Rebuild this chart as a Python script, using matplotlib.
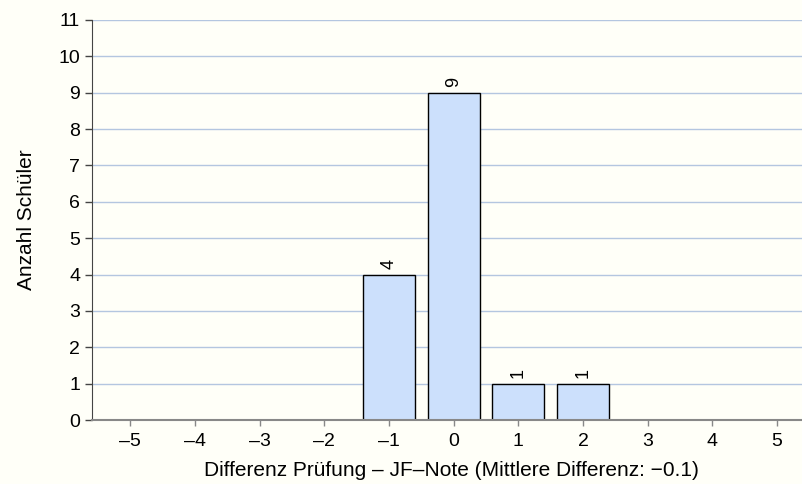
import numpy as np
import matplotlib.pyplot as plt

plt.rcParams['font.family'] = ['Liberation Sans', 'DejaVu Sans']

diffs = [-5, -4, -3, -2, -1, 0, 1, 2, 3, 4, 5]
counts = [0, 0, 0, 0, 4, 9, 1, 1, 0, 0, 0]
xlabel = "Differenz Prüfung \u2013 JF\u2013Note (Mittlere Differenz: \u22120.1)"
ylabel = "Anzahl Schüler"

bg = '#fffff8'
fig = plt.figure(figsize=(8.03, 4.84), dpi=100, facecolor=bg)
ax = fig.add_axes([0.1146, 0.1322, 0.8854, 0.8265], facecolor=bg)

for y in range(1, 12):
    ax.axhline(y, color='#b4c6e0', lw=1, zorder=0)

x = np.array(diffs)
c = np.array(counts)
mask = c > 0
bars = ax.bar(x[mask], c[mask], width=0.8, color='#cce0fc', edgecolor='black', lw=1, zorder=2)
for b, v in zip(bars, c[mask]):
    ax.text(b.get_x() + b.get_width() / 2, v + 0.15, str(v), rotation=90,
            ha='center', va='bottom', fontsize=13)

# right side of the original plot is cut off at the image edge
ax.set_xlim(-5.59, 5.40)
ax.set_ylim(0, 11)
ax.set_xticks(diffs)
ax.set_xticklabels([str(d).replace('-', '\u2013') for d in diffs])
ax.set_yticks(range(0, 12))
ax.tick_params(axis='both', labelsize=14, length=5, width=1, color='#444444')
ax.tick_params(axis='x', length=4, color='#888888', pad=5)
ax.spines['top'].set_visible(False)
ax.spines['right'].set_visible(False)
ax.spines['left'].set_color('#444444')
ax.spines['bottom'].set_color('#888888')
ax.spines['bottom'].set_linewidth(1.5)
ax.set_xlabel(xlabel, fontsize=15, labelpad=8, x=0.505)
ax.set_ylabel(ylabel, fontsize=15, labelpad=16)

fig.savefig('out.png', dpi=100, facecolor=bg)
